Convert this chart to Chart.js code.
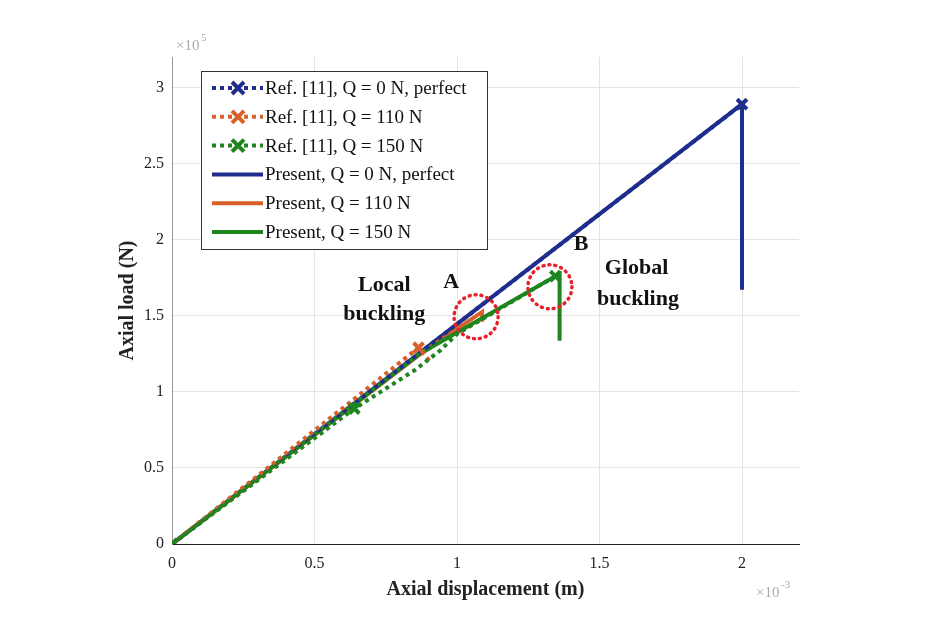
<!DOCTYPE html>
<html>
<head>
<meta charset="utf-8">
<script src="https://cdn.jsdelivr.net/npm/chart.js@4"></script>
<style>
  html, body { margin: 0; padding: 0; background: #fff; }
  #wrap { width: 943px; height: 629px; }
</style>
</head>
<body>
<div id="wrap"><canvas id="chart"></canvas></div>
<script>
// displacement in 1e-3 m, load in 1e5 N
const refBlueX = [0, 2.0];
const refBlueY = [0, 2.89];
const refOrangeX = [0, 0.865, 0.905];
const refOrangeY = [0, 1.29, 1.2];
const refGreenX = [0, 0.64, 0.85, 0.94, 1.0, 1.345];
const refGreenY = [0, 0.89, 1.14, 1.27, 1.38, 1.76];

const presBlueX = [0, 2.0, 2.0];
const presBlueY = [0, 2.89, 1.67];
const presOrangeX = [0, 0.88, 1.088, 1.088];
const presOrangeY = [0, 1.26, 1.525, 1.46];
const presGreenX = [0, 0.87, 1.36, 1.36];
const presGreenY = [0, 1.25, 1.775, 1.335];

// which ref points carry an X marker
const refBlueMarks = [1, 1];
const refOrangeMarks = [1, 1, 0];
const refGreenMarks = [1, 1, 0, 0, 0, 1];

const xTicks = [0, 0.5, 1, 1.5, 2];
const yTicks = [0, 0.5, 1, 1.5, 2, 2.5, 3];

const BLUE = "#1f2d8c";
const ORANGE = "#d9602a";
const GREEN = "#1f851f";
const SERIF = "'Liberation Serif', 'DejaVu Serif', serif";

function pts(xs, ys) {
  return xs.map((x, i) => ({ x: x, y: ys[i] }));
}

function refSet(label, xs, ys, marks, color, order) {
  return {
    label: label,
    data: pts(xs, ys),
    showLine: true,
    borderColor: color,
    backgroundColor: color,
    borderWidth: 4,
    borderDash: [4, 4],
    pointStyle: "crossRot",
    pointRadius: marks.map(m => m ? 7 : 0),
    pointBorderWidth: 4,
    pointBorderColor: color,
    isRef: true,
    order: order,
  };
}

function presSet(label, xs, ys, color, order) {
  return {
    label: label,
    data: pts(xs, ys),
    showLine: true,
    borderColor: color,
    backgroundColor: color,
    borderWidth: 4,
    pointRadius: 0,
    isRef: false,
    order: order,
  };
}

// red dotted circles and the text notes, placed in data units
const notes = {
  id: "notes",
  afterDatasetsDraw(chart) {
    const { ctx, scales: { x, y } } = chart;
    ctx.save();
    ctx.strokeStyle = "#e8202a";
    ctx.lineWidth = 3.5;
    ctx.setLineDash([1, 5]);
    ctx.lineCap = "round";
    [[1.067, 1.493], [1.326, 1.69]].forEach(c => {
      ctx.beginPath();
      ctx.arc(x.getPixelForValue(c[0]), y.getPixelForValue(c[1]), 22, 0, Math.PI * 2);
      ctx.stroke();
    });
    ctx.setLineDash([]);
    ctx.fillStyle = "#111";
    ctx.font = "bold 22px " + SERIF;
    ctx.textAlign = "center";
    ctx.textBaseline = "middle";
    const txt = [
      ["Local", 0.745, 1.70], ["buckling", 0.745, 1.51],
      ["A", 0.98, 1.72], ["B", 1.435, 1.97],
      ["Global", 1.63, 1.81], ["buckling", 1.635, 1.61],
    ];
    txt.forEach(t => ctx.fillText(t[0], x.getPixelForValue(t[1]), y.getPixelForValue(t[2])));
    ctx.restore();
  },
};

// legend box inside the plot, plus the axis exponents
const boxLegend = {
  id: "boxLegend",
  afterDraw(chart) {
    const ctx = chart.ctx;
    const sets = chart.data.datasets;
    ctx.save();
    ctx.fillStyle = "#fff";
    ctx.fillRect(201, 71, 286, 178);
    ctx.strokeStyle = "#333";
    ctx.lineWidth = 1;
    ctx.strokeRect(201.5, 71.5, 286, 178);
    ctx.font = "19px " + SERIF;
    ctx.textBaseline = "middle";
    ctx.textAlign = "left";
    sets.forEach((d, i) => {
      const yy = 88 + i * 28.8;
      ctx.strokeStyle = d.borderColor;
      ctx.lineWidth = 4;
      ctx.setLineDash(d.isRef ? [4, 4] : []);
      ctx.beginPath();
      ctx.moveTo(212, yy);
      ctx.lineTo(263, yy);
      ctx.stroke();
      ctx.setLineDash([]);
      if (d.isRef) {
        const cx = 238, r = 6;
        ctx.beginPath();
        ctx.moveTo(cx - r, yy - r); ctx.lineTo(cx + r, yy + r);
        ctx.moveTo(cx + r, yy - r); ctx.lineTo(cx - r, yy + r);
        ctx.stroke();
      }
      ctx.fillStyle = "#111";
      ctx.fillText(d.label, 265, yy + 1);
    });

    ctx.fillStyle = "#aaa";
    ctx.font = "15px " + SERIF;
    ctx.fillText("\u00d710", 176, 46);
    ctx.font = "11px " + SERIF;
    ctx.fillText("5", 201, 38);
    ctx.font = "15px " + SERIF;
    ctx.fillText("\u00d710", 756, 593);
    ctx.font = "11px " + SERIF;
    ctx.fillText("-3", 781, 585);
    ctx.restore();
  },
};

Chart.defaults.font.family = SERIF;
Chart.defaults.color = "#222";

new Chart(document.getElementById("chart"), {
  type: "scatter",
  data: {
    datasets: [
      refSet("Ref. [11], Q = 0 N, perfect", refBlueX, refBlueY, refBlueMarks, BLUE, 3),
      refSet("Ref. [11], Q = 110 N", refOrangeX, refOrangeY, refOrangeMarks, ORANGE, 2),
      refSet("Ref. [11], Q = 150 N", refGreenX, refGreenY, refGreenMarks, GREEN, 1),
      presSet("Present, Q = 0 N, perfect", presBlueX, presBlueY, BLUE, 6),
      presSet("Present, Q = 110 N", presOrangeX, presOrangeY, ORANGE, 5),
      presSet("Present, Q = 150 N", presGreenX, presGreenY, GREEN, 4),
    ],
  },
  options: {
    responsive: true,
    maintainAspectRatio: false,
    animation: false,
    layout: { padding: { top: 57, right: 144, left: 116, bottom: 27 } },
    plugins: {
      legend: { display: false },
      tooltip: { enabled: false },
    },
    scales: {
      x: {
        type: "linear",
        min: 0,
        max: 2.2,
        afterFit(s) { s.height = 58; },
        afterBuildTicks(s) { s.ticks = xTicks.map(v => ({ value: v })); },
        grid: { color: "#e4e4e4", tickLength: 0 },
        border: { color: "#222", width: 1 },
        ticks: { font: { size: 16 }, color: "#222", padding: 10, callback: v => String(v) },
        title: {
          display: true,
          text: "Axial displacement (m)",
          font: { size: 20, weight: "bold" },
          color: "#222",
          padding: 0,
        },
      },
      y: {
        type: "linear",
        min: 0,
        max: 3.2,
        afterFit(s) { s.width = 56; },
        afterBuildTicks(s) { s.ticks = yTicks.map(v => ({ value: v })); },
        grid: { color: "#e4e4e4", tickLength: 0 },
        border: { color: "#999", width: 1 },
        ticks: { font: { size: 16 }, color: "#222", padding: 8, callback: v => String(v) },
        title: {
          display: true,
          text: "Axial load (N)",
          font: { size: 20, weight: "bold" },
          color: "#222",
          padding: 0,
        },
      },
    },
  },
  plugins: [notes, boxLegend],
});
</script>
</body>
</html>
